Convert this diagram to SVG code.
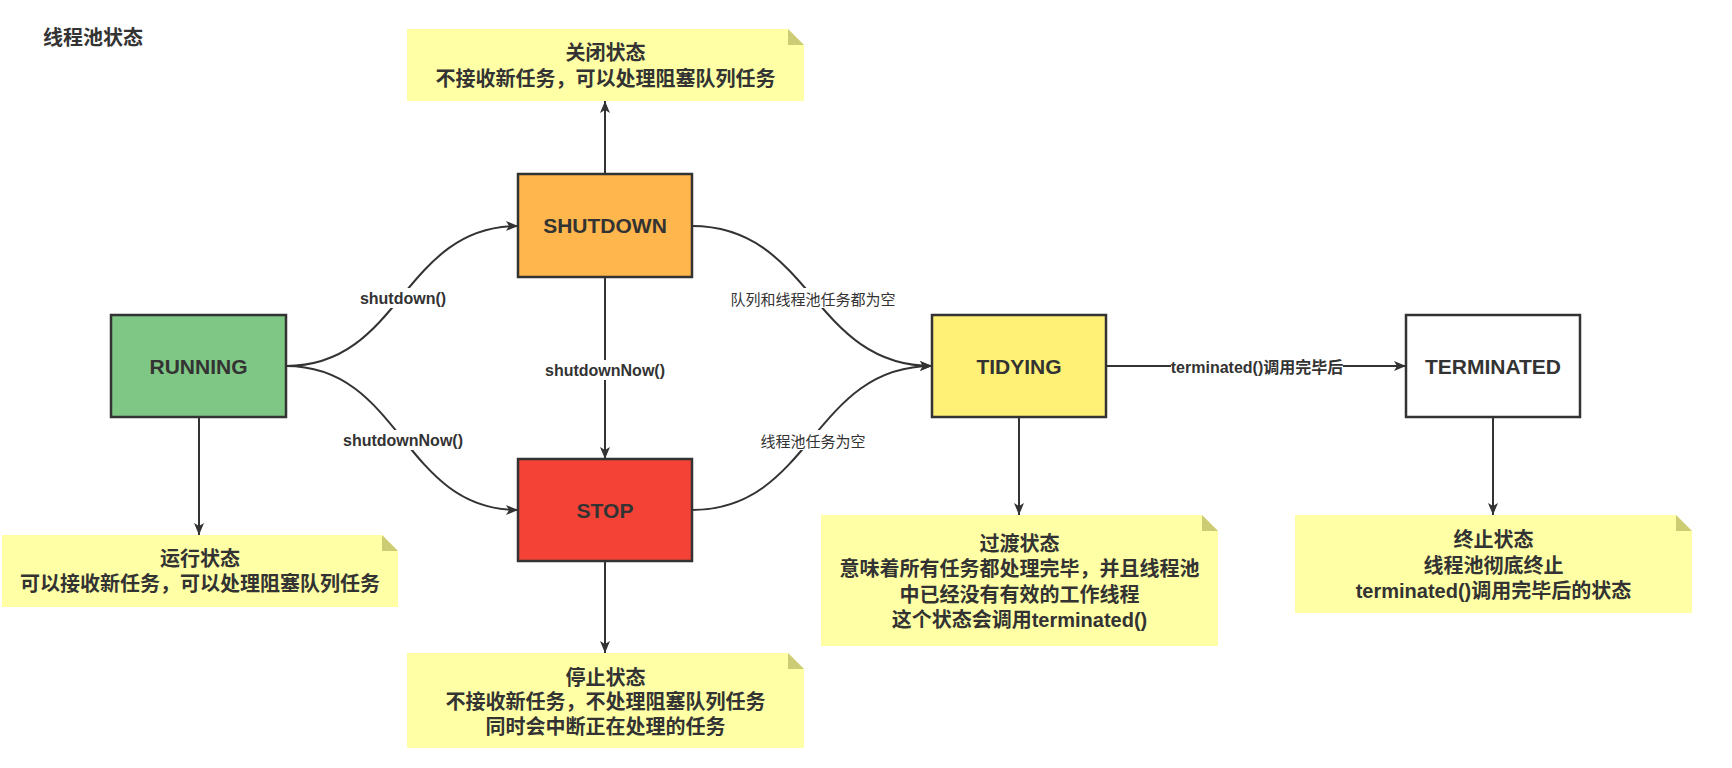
<svg xmlns="http://www.w3.org/2000/svg" width="1732" height="768" viewBox="0 0 1732 768">
<style>
  .box { stroke: #333333; stroke-width: 2.5; }
  .boxtxt { font-family: "Liberation Sans", "Noto Sans CJK SC", sans-serif; font-size: 21px; font-weight: bold; fill: #333333; text-anchor: middle; dominant-baseline: central; }
  .note { fill: #ffffa6; }
  .fold { fill: #cccc74; }
  .notetxt { font-family: "Liberation Sans", "Noto Sans CJK SC", sans-serif; font-size: 20px; font-weight: bold; fill: #333333; text-anchor: middle; dominant-baseline: central; }
  .edge { fill: none; stroke: #333333; stroke-width: 2; marker-end: url(#arrow); }
  .lbl { font-family: "Liberation Sans", "Noto Sans CJK SC", sans-serif; font-size: 16px; font-weight: bold; fill: #333333; text-anchor: middle; dominant-baseline: central; }
  .lblcn { font-family: "Noto Sans CJK SC", sans-serif; font-size: 15px; fill: #333333; text-anchor: middle; dominant-baseline: central; }
  .lblbg { fill: #ffffff; }
  .title { font-family: "Noto Sans CJK SC", sans-serif; font-size: 20px; font-weight: bold; fill: #333333; dominant-baseline: central; }
</style>
<defs>
  <marker id="arrow" markerUnits="userSpaceOnUse" markerWidth="14" markerHeight="12" refX="12" refY="5" orient="auto">
    <path d="M0,0 L12,5 L0,10 L3,5 Z" fill="#333333"/>
  </marker>
</defs>
<rect width="1732" height="768" fill="#ffffff"/>
<text class="title" x="43" y="36">线程池状态</text>

<g id="connectors">
  <path class="edge" d="M605,174 L605,101"/>
  <path class="edge" d="M199,417 L199,535"/>
  <path class="edge" d="M605,561 L605,653"/>
  <path class="edge" d="M1019,417 L1019,515"/>
  <path class="edge" d="M1493,417 L1493,515"/>
  <path class="edge" d="M286,366 C402,366 402,226 518,226"/>
  <path class="edge" d="M286,366 C402,366 402,510 518,510"/>
  <path class="edge" d="M605,277 L605,459"/>
  <path class="edge" d="M692,226 C812,226 812,366 932,366"/>
  <path class="edge" d="M692,510 C812,510 812,366 932,366"/>
  <path class="edge" d="M1106,366 L1406,366"/>
  <rect class="lblbg" x="359" y="288" width="88" height="20"/>
  <text class="lbl" x="403" y="298">shutdown()</text>
  <rect class="lblbg" x="342" y="430" width="122" height="20"/>
  <text class="lbl" x="403" y="440">shutdownNow()</text>
  <rect class="lblbg" x="544" y="360" width="122" height="20"/>
  <text class="lbl" x="605" y="370">shutdownNow()</text>
  <rect class="lblbg" x="730" y="288" width="166" height="20"/>
  <text class="lblcn" x="813" y="298">队列和线程池任务都为空</text>
  <rect class="lblbg" x="760" y="430" width="106" height="20"/>
  <text class="lblcn" x="813" y="440">线程池任务为空</text>
  <rect class="lblbg" x="1171" y="357" width="172" height="20"/>
  <text class="lbl" x="1257" y="367">terminated()调用完毕后</text>
</g>

<g id="running">
  <rect class="box" x="111" y="315" width="175" height="102" fill="#7fc784"/>
  <text class="boxtxt" x="198.5" y="366">RUNNING</text>
</g>
<g id="shutdown">
  <rect class="box" x="518" y="174" width="174" height="103" fill="#ffb74d"/>
  <text class="boxtxt" x="605" y="225.5">SHUTDOWN</text>
</g>
<g id="stop">
  <rect class="box" x="518" y="459" width="174" height="102" fill="#f44336"/>
  <text class="boxtxt" x="605" y="510">STOP</text>
</g>
<g id="tidying">
  <rect class="box" x="932" y="315" width="174" height="102" fill="#fff176"/>
  <text class="boxtxt" x="1019" y="366">TIDYING</text>
</g>
<g id="terminated">
  <rect class="box" x="1406" y="315" width="174" height="102" fill="#ffffff"/>
  <text class="boxtxt" x="1493" y="366">TERMINATED</text>
</g>

<g id="note-shutdown">
  <path class="note" d="M407,29 L788,29 L804,45 L804,101 L407,101 Z"/>
  <path class="fold" d="M788,29 L788,45 L804,45 Z"/>
  <text class="notetxt" x="605.5" y="53">关闭状态</text>
  <text class="notetxt" x="605.5" y="79">不接收新任务，可以处理阻塞队列任务</text>
</g>
<g id="note-running">
  <path class="note" d="M2,535 L382,535 L398,551 L398,607 L2,607 Z"/>
  <path class="fold" d="M382,535 L382,551 L398,551 Z"/>
  <text class="notetxt" x="200" y="559">运行状态</text>
  <text class="notetxt" x="200" y="584">可以接收新任务，可以处理阻塞队列任务</text>
</g>
<g id="note-stop">
  <path class="note" d="M407,653 L788,653 L804,669 L804,748 L407,748 Z"/>
  <path class="fold" d="M788,653 L788,669 L804,669 Z"/>
  <text class="notetxt" x="605.5" y="678">停止状态</text>
  <text class="notetxt" x="605.5" y="702">不接收新任务，不处理阻塞队列任务</text>
  <text class="notetxt" x="605.5" y="727">同时会中断正在处理的任务</text>
</g>
<g id="note-tidying">
  <path class="note" d="M821,515 L1202,515 L1218,531 L1218,646 L821,646 Z"/>
  <path class="fold" d="M1202,515 L1202,531 L1218,531 Z"/>
  <text class="notetxt" x="1019.5" y="544">过渡状态</text>
  <text class="notetxt" x="1019.5" y="569">意味着所有任务都处理完毕，并且线程池</text>
  <text class="notetxt" x="1019.5" y="595">中已经没有有效的工作线程</text>
  <text class="notetxt" x="1019.5" y="620">这个状态会调用terminated()</text>
</g>
<g id="note-terminated">
  <path class="note" d="M1295,515 L1676,515 L1692,531 L1692,613 L1295,613 Z"/>
  <path class="fold" d="M1676,515 L1676,531 L1692,531 Z"/>
  <text class="notetxt" x="1493.5" y="540">终止状态</text>
  <text class="notetxt" x="1493.5" y="566">线程池彻底终止</text>
  <text class="notetxt" x="1493.5" y="591">terminated()调用完毕后的状态</text>
</g>
</svg>
